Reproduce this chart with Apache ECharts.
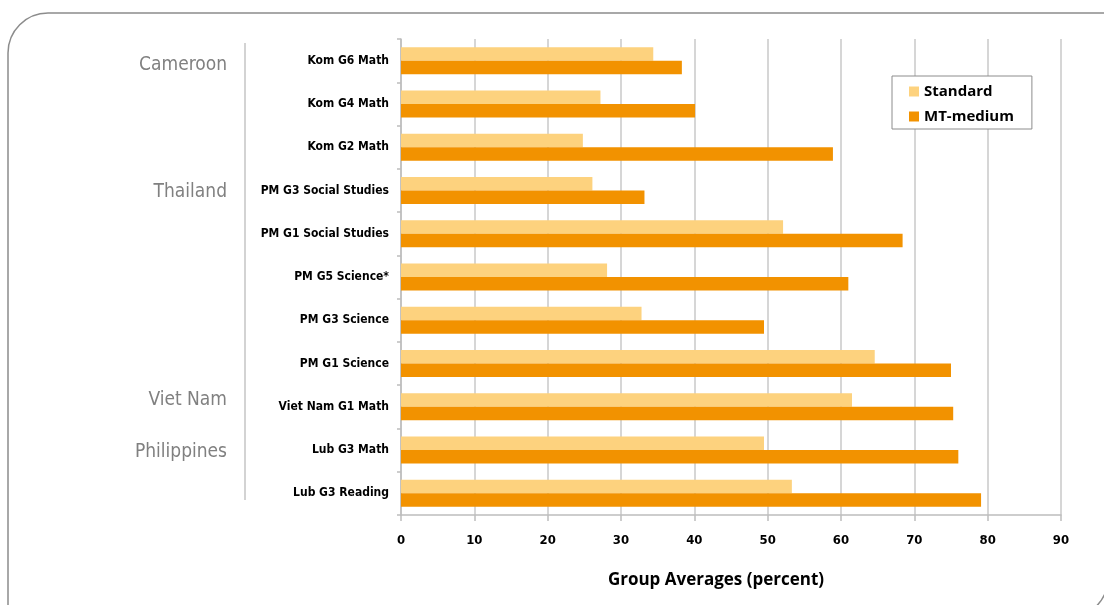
<!DOCTYPE html>
<html>
<head>
<meta charset="utf-8">
<script src="https://cdn.jsdelivr.net/npm/echarts@6/dist/echarts.min.js"></script>
<style>
html,body{margin:0;padding:0;background:#fff;}
#c{width:1104px;height:605px;}
</style>
</head>
<body>
<div id="c"></div>
<script>
// Data
const categories = ['Kom G6 Math','Kom G4 Math','Kom G2 Math','PM G3 Social Studies','PM G1 Social Studies','PM G5 Science*','PM G3 Science','PM G1 Science','Viet Nam G1 Math','Lub G3 Math','Lub G3 Reading'];
const countries = ['Cameroon','','','Thailand','','','','','Viet Nam','Philippines',''];
const standard = [34.4, 27.2, 24.8, 26.1, 52.1, 28.1, 32.8, 64.6, 61.5, 49.5, 53.3];
const mtMedium = [38.3, 40.1, 58.9, 33.2, 68.4, 61.0, 49.5, 75.0, 75.3, 76.0, 79.1];
const seriesNames = ['Standard', 'MT-medium'];
const xTicks = {min: 0, max: 90, interval: 10};
const axisTitle = 'Group Averages (percent)';

const condensed = "'DejaVu Sans Condensed','Liberation Sans Narrow',sans-serif";
const chart = echarts.init(document.getElementById('c'), null, {renderer: 'canvas'});
const countryKeys = {'Cameroon':'cam','Thailand':'tha','Viet Nam':'vie','Philippines':'phi'};
const countryStyle = {fontFamily: condensed, fontSize: 19, color: '#808080'};
chart.setOption({
  animation: false,
  backgroundColor: '#fff',
  graphic: [
    {type: 'rect', z: -10, shape: {x: 8, y: 13, width: 1100, height: 605, r: [40, 0, 40, 0]},
     style: {fill: 'none', stroke: '#8c8c8c', lineWidth: 1.5}},
    {type: 'line', z: -5, shape: {x1: 245, y1: 43, x2: 245, y2: 500},
     style: {stroke: '#c4c4c4', lineWidth: 1.5}}
  ],
  grid: {left: 401, right: 43, top: 39, bottom: 90, containLabel: false},
  legend: {
    orient: 'vertical', left: 892, top: 76,
    data: seriesNames,
    itemWidth: 10, itemHeight: 10, itemGap: 10,
    backgroundColor: '#fff', borderColor: '#8c8c8c', borderWidth: 1,
    padding: [8, 18, 5, 17],
    textStyle: {fontFamily: "'Open Sans',sans-serif", fontWeight: 'bold', fontSize: 15, color: '#000'},
    icon: 'rect'
  },
  xAxis: {
    type: 'value', min: xTicks.min, max: xTicks.max, interval: xTicks.interval,
    name: axisTitle, nameLocation: 'middle', nameGap: 57,
    nameTextStyle: {fontFamily: "'Open Sans',sans-serif", fontWeight: 'bold', fontSize: 17, color: '#000', padding: [0, 30, 0, 0]},
    axisLine: {show: true, lineStyle: {color: '#bdbdbd', width: 1.5}},
    axisTick: {show: true, length: 6, lineStyle: {color: '#bdbdbd', width: 1.5}},
    axisLabel: {fontFamily: condensed, fontWeight: 'bold', fontSize: 13, color: '#000', margin: 19},
    splitLine: {show: true, lineStyle: {color: '#c8c8c8', width: 1.5}}
  },
  yAxis: [
    {
      type: 'category', data: categories, inverse: true,
      axisLine: {show: true, lineStyle: {color: '#bdbdbd', width: 1.5}},
      axisTick: {show: true, length: 4, lineStyle: {color: '#bdbdbd', width: 1.5}},
      axisLabel: {fontFamily: condensed, fontWeight: 'bold', fontSize: 12, color: '#000', margin: 12},
      splitLine: {show: false}
    },
    {
      type: 'category', data: categories, inverse: true, position: 'left', offset: 166,
      axisLine: {show: false}, axisTick: {show: false}, splitLine: {show: false},
      axisLabel: {
        margin: 8,
        formatter: function (v, i) {
          const c = countries[i];
          return c ? '{' + countryKeys[c] + '|' + c + '}' : '';
        },
        rich: {
          cam: Object.assign({padding: [8, 0, 0, 0]}, countryStyle),
          tha: Object.assign({padding: [3, 0, 0, 0]}, countryStyle),
          vie: Object.assign({padding: [0, 0, 14, 0]}, countryStyle),
          phi: Object.assign({padding: [4, 0, 0, 0]}, countryStyle)
        }
      }
    }
  ],
  series: [
    {name: seriesNames[0], type: 'bar', data: standard, barWidth: 13.5, barGap: '0%',
     itemStyle: {color: '#fdd27e'}},
    {name: seriesNames[1], type: 'bar', data: mtMedium, barWidth: 13.5, barGap: '0%',
     itemStyle: {color: '#f29200'}}
  ]
});
</script>
</body>
</html>
